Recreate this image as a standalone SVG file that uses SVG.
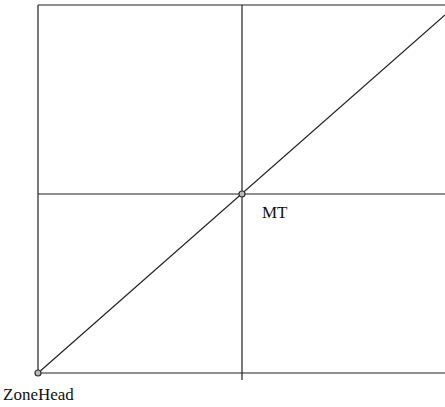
<svg xmlns="http://www.w3.org/2000/svg" width="445" height="407" viewBox="0 0 445 407">
<style>
.ln{stroke:#222;stroke-width:1.2;fill:none}
.pt{stroke:#333;stroke-width:1.2;fill:#bbb}
.lb{font-family:"Liberation Serif",serif;font-size:17px;fill:#111}
</style>
<rect width="445" height="407" fill="#fff"/>
<g id="connectors">
<path class="ln" d="M38,5 H445"/>
<path class="ln" d="M38,5 V373"/>
<path class="ln" d="M38,373 H445"/>
<path class="ln" d="M242,5 V380"/>
<path class="ln" d="M38,194 H445"/>
<path class="ln" d="M38,373 L445,15"/>
</g>
<g id="ZoneHead">
<circle class="pt" cx="38" cy="373" r="3"/>
<text class="lb" x="3" y="400">ZoneHead</text>
</g>
<g id="MT">
<circle class="pt" cx="242" cy="194" r="3"/>
<text class="lb" x="262" y="218">MT</text>
</g>
</svg>
